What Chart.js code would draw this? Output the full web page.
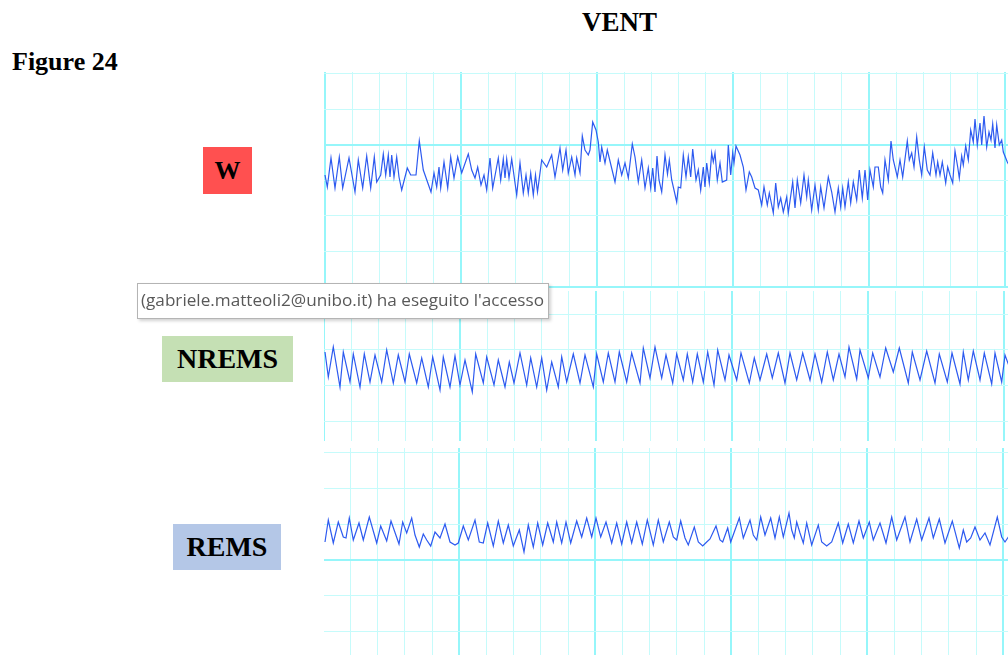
<!DOCTYPE html>
<html>
<head>
<meta charset="utf-8">
<title>VENT</title>
<script src="https://cdn.jsdelivr.net/npm/chart.js@4"></script>
<style>
  html, body { margin: 0; padding: 0; background: #fff; }
  #page { position: relative; width: 1008px; height: 655px; overflow: hidden; background: #fff; }
  .serif { position: absolute; font-family: "Liberation Serif", "Times New Roman", serif; font-weight: bold; color: #000; line-height: 1; white-space: nowrap; }
  .state { display: flex; align-items: center; justify-content: center; }
  canvas { position: absolute; left: 324px; }
  #tip {
    position: absolute; left: 137px; top: 283px; width: 410px; height: 34px;
    background: #fff; border: 1px solid #b4b4b4; box-shadow: 2px 2px 3px rgba(0,0,0,0.18);
    z-index: 5; overflow: hidden;
  }
  #tipText {
    position: absolute; left: 3px; top: 6px; white-space: nowrap; transform-origin: left top;
    font-family: "Open Sans", sans-serif; font-size: 16.5px; line-height: 20px; color: #595959;
  }
</style>
</head>
<body>
<div id="page">
  <div class="serif" style="left:12px;top:49px;font-size:26px">Figure 24</div>
  <div class="serif" style="left:582px;top:9px;font-size:27px">VENT</div>

  <div class="serif state" style="left:203px;top:147px;width:49px;height:47px;background:#ff5050;font-size:26px">W</div>
  <div class="serif state" style="left:162px;top:336px;width:131px;height:46px;background:#c5e0b4;font-size:28px">NREMS</div>
  <div class="serif state" style="left:173px;top:524px;width:108px;height:46px;background:#b4c7e7;font-size:28px">REMS</div>

  <canvas id="ventW" width="684" height="216" style="top:72px;width:684px;height:216px"></canvas>
  <canvas id="ventNrem" width="684" height="150" style="top:291px;width:684px;height:150px"></canvas>
  <canvas id="ventRem" width="684" height="207" style="top:448px;width:684px;height:207px"></canvas>

  <div id="tip"><span id="tipText">(gabriele.matteoli2@unibo.it) ha eseguito l'accesso</span></div>
</div>

<script>
// ventilation traces: time in samples, amplitude in arbitrary units

const W_T = [
  0, 2.3, 6, 10, 14.3, 17.7, 24, 30, 33.3, 37.7,
  41.7, 45.7, 49.3, 51.7, 55.7, 58.3, 60.7, 63.3, 65, 66.7,
  69, 71.7, 74, 76.7, 82.3, 85.7, 91, 94.3, 98.3, 106,
  109, 111.7, 114, 115.7, 119, 122.7, 125.7, 129, 132.7, 136.7,
  143.3, 146.7, 150, 152.7, 156, 159, 161.7, 165, 167.7, 173.3,
  175.7, 178.3, 180, 181.7, 184, 186.7, 191.7, 195, 198.3, 201,
  203.3, 205.7, 208.3, 210.5, 212.5, 216.7, 221.7, 226.7, 230, 235,
  237.7, 241, 243.3, 246.7, 250, 251.7, 255, 257.3, 260, 263.3,
  265, 267.7, 271, 273.3, 275, 276.7, 280, 282.3, 290, 293.3,
  296.7, 300, 303.3, 307.3, 310, 313.3, 316.7, 320, 323.3, 325.7,
  327.7, 330, 332, 334, 336.7, 340, 342.5, 344.3, 346.7, 351.7,
  353.3, 355.7, 358.3, 361, 363.3, 365.7, 367.7, 371, 373.3, 375.7,
  378.3, 380, 381.7, 384.3, 386.7, 388.3, 390, 392.3, 395, 397.3,
  401.7, 403.3, 405.7, 407.7, 409, 411, 415, 418.3, 421, 424.3,
  426.7, 430, 433.3, 436.7, 439, 442.3, 444.3, 448.3, 450.7, 453.3,
  455.7, 458.3, 461.7, 463.3, 467.7, 470, 472.3, 475.7, 479, 481.7,
  483.3, 486.7, 490, 493.3, 495.7, 499, 503.3, 506.7, 510, 513.3,
  515.7, 517.7, 520, 523.3, 525.7, 528.3, 531.7, 534.3, 537.3, 540,
  542.7, 545, 548.3, 550, 553.3, 555.7, 557.7, 560, 563.3, 566,
  568.3, 572.3, 575, 577.7, 582.3, 584.3, 586.7, 589, 591.7, 594.3,
  596.7, 599.3, 602.3, 605, 607.7, 611, 612.7, 615, 617.3, 620.7,
  622.7, 625, 627.7, 630, 632.7, 634.3, 636.7, 638.3, 640.7, 643.3,
  645.7, 648.3, 650, 652.3, 655, 656.7, 659, 661.7, 664, 666,
  667.7, 670, 671.7, 674.3, 676.7, 678.3, 682.3, 684
];
const W_V = [
  112, 100, 129, 99, 130, 99, 129, 95, 127, 99,
  131, 99, 130, 105, 112, 133, 112, 132, 110, 132,
  110, 130, 110, 97, 119, 112, 112, 146, 117, 95,
  114, 100, 120, 99, 125, 99, 130, 109, 130, 114,
  133, 117, 109, 120, 102, 112, 97, 129, 99, 129,
  107, 128, 109, 128, 109, 128, 92, 124, 94, 112,
  94, 114, 92, 112, 95, 127, 120, 132, 110, 139,
  117, 137, 114, 130, 112, 129, 114, 151, 137, 132,
  137, 165, 157, 145, 125, 140, 124, 137, 105, 127,
  112, 124, 109, 143, 130, 105, 127, 99, 119, 99,
  119, 95, 131, 107, 95, 132, 113, 127, 107, 85,
  100, 99, 132, 110, 130, 110, 138, 107, 117, 97,
  120, 100, 124, 104, 134, 125, 134, 107, 124, 105,
  107, 142, 112, 134, 124, 141, 132, 120, 97, 115,
  110, 99, 97, 82, 100, 82, 94, 74, 104, 80,
  89, 75, 90, 74, 105, 79, 107, 84, 112, 90,
  107, 77, 102, 77, 100, 79, 110, 95, 75, 99,
  80, 99, 80, 105, 84, 105, 87, 117, 89, 117,
  87, 117, 100, 120, 120, 100, 94, 127, 107, 146,
  127, 110, 127, 110, 146, 127, 134, 120, 150, 127,
  112, 140, 117, 112, 134, 112, 125, 112, 125, 104,
  120, 112, 104, 136, 120, 109, 131, 122, 141, 127,
  157, 145, 168, 142, 164, 142, 171, 140, 155, 147,
  163, 139, 162, 142, 147, 135, 125, 122
];

const NREM_T = [
  0, 3.3, 8.3, 15, 18.3, 25, 28.3, 35, 39.3, 45,
  50, 56.7, 61.7, 68.3, 73.3, 80, 84.3, 91.7, 96.7, 103.3,
  107.7, 115, 118.3, 125, 130, 135, 140, 147.3, 150.7, 158.3,
  161.7, 169, 173.3, 180, 184.3, 189, 195, 201.7, 205.7, 211.7,
  216.7, 221.7, 226.7, 233.3, 236.7, 241.7, 248.3, 255, 260, 268.3,
  271.7, 278.3, 283.3, 290, 294.3, 301.7, 306.7, 315, 318.3, 325,
  330, 336.7, 341, 347.7, 351.7, 358.3, 362.3, 367.7, 372.3, 378.3,
  382.7, 389, 392.7, 400, 404, 411.7, 416, 424.3, 429.3, 435,
  441.7, 447.3, 453.3, 460, 465, 471.7, 477.7, 485, 490, 496.7,
  502.3, 508.3, 514, 520, 524, 531.7, 535, 543.3, 547.7, 555,
  560.7, 568.3, 574.3, 583.3, 587.3, 595, 601.7, 610, 614.3, 622.3,
  627, 635, 638.3, 643.3, 648.3, 655, 659.3, 666.7, 670, 676.7,
  680, 684
];
const NREM_V = [
  69, 44, 74, 34, 69, 39, 67, 34, 67, 39,
  66, 39, 71, 38, 66, 39, 67, 38, 63, 34,
  64, 31, 64, 34, 65, 36, 61, 29, 67, 38,
  64, 36, 61, 34, 59, 38, 68, 36, 63, 34,
  63, 31, 59, 34, 64, 39, 67, 38, 66, 34,
  67, 39, 68, 39, 69, 39, 68, 38, 73, 43,
  74, 43, 66, 38, 67, 41, 67, 39, 67, 39,
  69, 36, 71, 41, 66, 41, 68, 38, 63, 41,
  67, 43, 68, 38, 68, 41, 68, 41, 67, 39,
  69, 41, 67, 44, 74, 42, 71, 43, 68, 44,
  73, 49, 73, 38, 69, 41, 70, 38, 67, 39,
  68, 37, 69, 41, 70, 41, 68, 37, 68, 39,
  66, 55
];

const REM_T = [
  0, 3.3, 8.3, 13.3, 18.3, 21, 24.3, 28.3, 34, 38.3,
  44.3, 51.7, 55.7, 61.7, 66, 74, 77.7, 81.7, 86.7, 90,
  94.3, 98.3, 101.7, 105.7, 110, 115, 120, 125, 130, 133.3,
  138.3, 143.3, 150, 154.3, 158.3, 162.7, 168.3, 173.3, 178.3, 183.3,
  188.3, 194.3, 199, 203.3, 208.3, 212.7, 217.7, 222.7, 228.3, 231.7,
  236.7, 241, 245.7, 251.7, 256.7, 261.7, 266.7, 271, 275.7, 281,
  286.7, 291.7, 296.7, 301.7, 306.7, 311.7, 317.3, 322.3, 328.3, 333.3,
  338.3, 344.3, 348.3, 351.7, 355.7, 360, 363.3, 369.3, 373.3, 377.7,
  381.7, 385, 391, 395, 397.7, 402.7, 405.7, 414.3, 418.3, 425,
  428.3, 431.7, 435.7, 440, 445.7, 450, 454.3, 458.3, 464, 466.7,
  469.3, 471.7, 475, 478.3, 481.7, 486.7, 493.3, 496.7, 501.7, 506.7,
  513.3, 517.7, 523.3, 528.3, 534, 538.3, 544.3, 548.3, 555, 561,
  566.7, 571.7, 580, 585, 591.7, 596.7, 604, 608.3, 614.3, 620,
  627.3, 634.3, 638.3, 641.7, 645.7, 650, 655, 660, 665, 672.3,
  676.7, 680, 684
];
const REM_V = [
  89, 111, 88, 109, 94, 93, 113, 91, 108, 91,
  114, 88, 105, 90, 110, 87, 109, 98, 113, 96,
  84, 97, 91, 85, 99, 93, 107, 89, 86, 88,
  105, 91, 111, 89, 88, 108, 85, 110, 88, 106,
  85, 101, 79, 106, 84, 108, 86, 108, 89, 109,
  88, 109, 88, 110, 94, 113, 94, 113, 94, 109,
  88, 108, 87, 109, 88, 109, 87, 111, 86, 111,
  89, 109, 94, 91, 110, 93, 86, 104, 89, 85,
  89, 92, 105, 91, 89, 103, 89, 113, 93, 111,
  96, 91, 114, 96, 113, 93, 114, 94, 118, 101,
  93, 109, 98, 88, 108, 86, 106, 89, 85, 89,
  108, 88, 107, 88, 110, 93, 109, 91, 108, 88,
  114, 91, 114, 89, 112, 91, 113, 93, 112, 88,
  110, 83, 101, 89, 93, 104, 91, 98, 86, 114,
  94, 89, 95
];

// chart paper
const X_STEP = 27.2;      // one small division, in samples
const Y_STEP = 35.6;      // one small division, in amplitude units
const GRID_MINOR = 'rgb(198, 251, 251)';
const GRID_MAJOR = 'rgb(150, 246, 250)';
const TRACE_COLOR = 'rgb(45, 90, 240)';

// every fifth vertical line is a heavy one
function gridTicks(min, max, step, shift) {
  const ticks = [];
  for (let k = 0; k * step + shift <= max; k++) {
    const v = k * step + shift;
    if (v >= min) ticks.push({ value: v, major: k % 5 === 0 });
  }
  return ticks;
}

function drawTrace(id, times, values, yMin, yMax, xShift, heavyRows) {
  const points = times.map((t, i) => ({ x: t, y: values[i] }));
  let xTicks = [];
  const xHeavy = ctx => xTicks[ctx.index] && xTicks[ctx.index].major;
  const yHeavy = ctx => heavyRows.includes(ctx.index);

  return new Chart(document.getElementById(id), {
    type: 'line',
    data: {
      datasets: [{
        data: points,
        borderColor: TRACE_COLOR,
        borderWidth: 1.2,
        pointRadius: 0,
        tension: 0,
        fill: false,
      }]
    },
    options: {
      responsive: false,
      animation: false,
      events: [],
      devicePixelRatio: 1,
      layout: { padding: 0 },
      plugins: { legend: { display: false }, tooltip: { enabled: false } },
      scales: {
        x: {
          type: 'linear', min: -1, max: 683,
          ticks: { display: false },
          border: { display: false },
          grid: {
            drawTicks: false,
            lineWidth: ctx => (xHeavy(ctx) ? 2 : 1),
            color: ctx => (xHeavy(ctx) ? GRID_MAJOR : GRID_MINOR),
          },
          afterBuildTicks: axis => {
            xTicks = gridTicks(-1, 683, X_STEP, xShift);
            axis.ticks = xTicks.map(t => ({ value: t.value }));
          },
        },
        y: {
          type: 'linear', min: yMin, max: yMax,
          ticks: { display: false },
          border: { display: false },
          grid: {
            drawTicks: false,
            lineWidth: ctx => (yHeavy(ctx) ? 2 : 1),
            color: ctx => (yHeavy(ctx) ? GRID_MAJOR : GRID_MINOR),
          },
          afterBuildTicks: axis => {
            axis.ticks = gridTicks(yMin, yMax, Y_STEP, 0).map(t => ({ value: t.value }));
          },
        }
      }
    }
  });
}

drawTrace('ventW', W_T, W_V, -1, 215, 0, [0, 4]);
drawTrace('ventNrem', NREM_T, NREM_V, -20, 130, -1, []);
drawTrace('ventRem', REM_T, REM_V, -24, 183, -1.7, [2]);

// squeeze the sign-in note to its box width
const tipText = document.getElementById('tipText');
const tipWidth = tipText.getBoundingClientRect().width;
tipText.style.transform = `scaleX(${403 / tipWidth})`;
</script>
</body>
</html>
